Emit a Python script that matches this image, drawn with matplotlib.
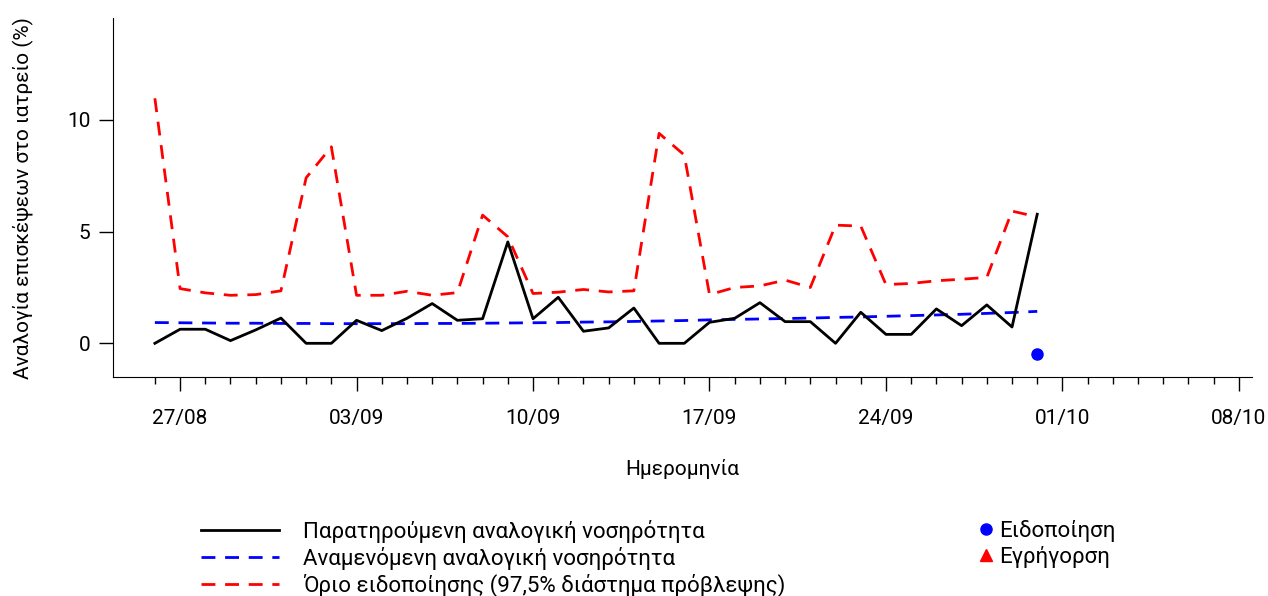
import numpy as np
import pandas as pd
import matplotlib
matplotlib.use("Agg")
import matplotlib.pyplot as plt
import matplotlib.dates as mdates
from matplotlib.lines import Line2D

plt.rcParams['font.family'] = ['Roboto', 'DejaVu Sans']

# data
dates = pd.date_range("2023-08-26", "2023-09-30", freq="D")
observed = [0.00, 0.63, 0.63, 0.12, 0.60, 1.13, 0.00, 0.00, 1.03, 0.57,
            1.12, 1.78, 1.03, 1.10, 4.54, 1.10, 2.06, 0.54, 0.69, 1.58,
            0.00, 0.00, 0.94, 1.12, 1.82, 0.97, 0.97, 0.00, 1.39, 0.40,
            0.40, 1.54, 0.79, 1.72, 0.73, 5.78]
expected = [0.93, 0.92, 0.91, 0.90, 0.90, 0.89, 0.89, 0.88, 0.88, 0.88,
            0.88, 0.89, 0.89, 0.90, 0.91, 0.92, 0.93, 0.95, 0.96, 0.98,
            1.00, 1.02, 1.05, 1.07, 1.09, 1.11, 1.13, 1.16, 1.18, 1.21,
            1.24, 1.27, 1.30, 1.34, 1.38, 1.43]
threshold = [10.97, 2.45, 2.26, 2.15, 2.18, 2.35, 7.41, 8.80, 2.15, 2.15,
             2.33, 2.15, 2.27, 5.74, 4.77, 2.23, 2.29, 2.41, 2.30, 2.35,
             9.40, 8.43, 2.18, 2.50, 2.57, 2.83, 2.50, 5.29, 5.25, 2.63,
             2.68, 2.80, 2.87, 2.95, 5.92, 5.66]
alert_dates = pd.to_datetime(["2023-09-30"])
alert_values = [-0.48]
major_ticks = pd.date_range("2023-08-27", "2023-10-08", freq="7D")
minor_ticks = pd.date_range("2023-08-26", "2023-10-08", freq="D")

fig = plt.figure(figsize=(12.68, 5.96), dpi=100)
ax = fig.add_axes([0.089, 0.367, 0.898, 0.603])

ax.plot(dates, threshold, color="red", lw=2, dashes=(5, 3.5))
ax.plot(dates, expected, color="blue", lw=2, dashes=(5, 3.5))
ax.plot(dates, observed, color="black", lw=2)
ax.plot(alert_dates, alert_values, "o", color="blue", ms=8)

ax.set_ylim(-1.52, 14.57)
ax.set_xlim(pd.Timestamp("2023-08-24 08:00"), pd.Timestamp("2023-10-08 12:00"))
ax.set_yticks([0, 5, 10])
ax.set_xticks(major_ticks)
ax.set_xticks(minor_ticks, minor=True)
ax.xaxis.set_major_formatter(mdates.DateFormatter("%d/%m"))

for s in ["top", "right"]:
    ax.spines[s].set_visible(False)
ax.tick_params(axis="x", which="major", length=10, width=1, labelsize=15, pad=13)
ax.tick_params(axis="x", which="minor", length=5, width=1)
ax.tick_params(axis="y", length=10, width=1, labelsize=15, pad=6)

ax.set_ylabel("Αναλογία επισκέψεων στο ιατρείο (%)", fontsize=15, labelpad=24)
ax.set_xlabel("Ημερομηνία", fontsize=15, labelpad=22)

h1 = [Line2D([], [], color="black", lw=2),
      Line2D([], [], color="blue", lw=2, dashes=(5, 3.5)),
      Line2D([], [], color="red", lw=2, dashes=(5, 3.5))]
l1 = ["Παρατηρούμενη αναλογική νοσηρότητα",
      "Αναμενόμενη αναλογική νοσηρότητα",
      "Όριο ειδοποίησης (97,5% διάστημα πρόβλεψης)"]
fig.legend(h1, l1, loc="upper left", bbox_to_anchor=(0.1514, 0.142), frameon=False,
           fontsize=16, handlelength=3.5, handletextpad=1.1, labelspacing=0.17,
           borderaxespad=0)

h2 = [Line2D([], [], color="blue", marker="o", ls="none", ms=8),
      Line2D([], [], color="red", marker="^", ls="none", ms=8)]
l2 = ["Ειδοποίηση", "Εγρήγορση"]
fig.legend(h2, l2, loc="upper left", bbox_to_anchor=(0.7654, 0.142), frameon=False,
           fontsize=16, handlelength=0.6, handletextpad=0.3, labelspacing=0.17,
           borderaxespad=0)

fig.savefig("out.png", dpi=100)
